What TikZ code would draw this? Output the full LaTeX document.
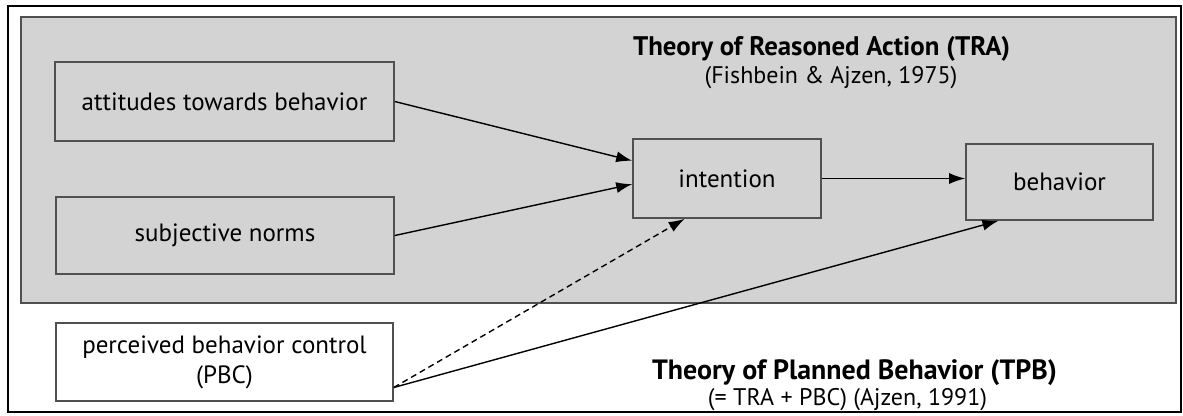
\documentclass[tikz,border=0pt]{standalone}
\usepackage{fontspec}
\usepackage{graphicx}
\setmainfont{PT Sans}
\usetikzlibrary{calc,arrows.meta}
\definecolor{panelgrey}{HTML}{D3D3D3}
\definecolor{edgegrey}{HTML}{505050}
\newcommand\fitw[2]{\resizebox{#1pt}{!}{#2}}
\tikzset{
  box/.style={draw=edgegrey, line width=1.6pt, fill=panelgrey, inner sep=0pt, font=\fontsize{25}{30}\selectfont},
  conn/.style={draw=black, line width=1.4pt, -{Latex[length=16pt,width=11pt]}},
  title/.style={font=\fontsize{25}{29}\selectfont\bfseries, inner sep=0pt},
  sub/.style={font=\fontsize{24}{28}\selectfont, inner sep=0pt}
}
\begin{document}
\begin{tikzpicture}[x=1pt,y=-1pt]
\useasboundingbox (0,0) rectangle (1183,415);
\fill[white] (0,0) rectangle (1183,415);
\draw[black, line width=2.6pt] (8,6) rectangle (1181,412);
\draw[edgegrey, line width=1.6pt, fill=panelgrey] (21,17) rectangle (1176,303);

\node[box, minimum width=339pt, minimum height=79pt] (att) at (224.5,101.5) {attitudes towards behavior};
\node[box, minimum width=338pt, minimum height=77pt] (sn) at (225,235.5) {subjective norms};
\node[box, fill=white, minimum width=337pt, minimum height=78pt, align=center] (pbc) at (224.5,362) {perceived behavior control\\(PBC)};
\node[box, minimum width=188pt, minimum height=79pt] (int) at (727,178.5) {intention};
\node[box, minimum width=187pt, minimum height=76pt] (beh) at (1059.5,182) {behavior};

\node[title] (tra) at (821.5,49) {\fitw{377}{Theory of Reasoned Action (TRA)}};
\node[sub] (trasub) at (831,78) {(Fishbein \& Ajzen, 1975)};
\node[title] (tpb) at (854.5,373) {\fitw{405}{Theory of Planned Behavior (TPB)}};
\node[sub] (tpbsub) at (847.5,400) {(= TRA + PBC) (Ajzen, 1991)};

\coordinate (pbcout) at ($(pbc.south east)!0.18!(pbc.north east)$);
\draw[conn] (att.east) -- ($(int.north west)!0.28!(int.south west)$);
\draw[conn] (sn.east) -- ($(int.north west)!0.57!(int.south west)$);
\draw[conn] (int.east) -- (beh.west |- int.east);
\draw[conn, dashed, dash pattern=on 6pt off 4pt] (pbcout) -- ($(int.south west)!0.277!(int.south east)$);
\draw[conn] (pbcout) -- ($(beh.south west)!0.176!(beh.south east)$);
\end{tikzpicture}
\end{document}
